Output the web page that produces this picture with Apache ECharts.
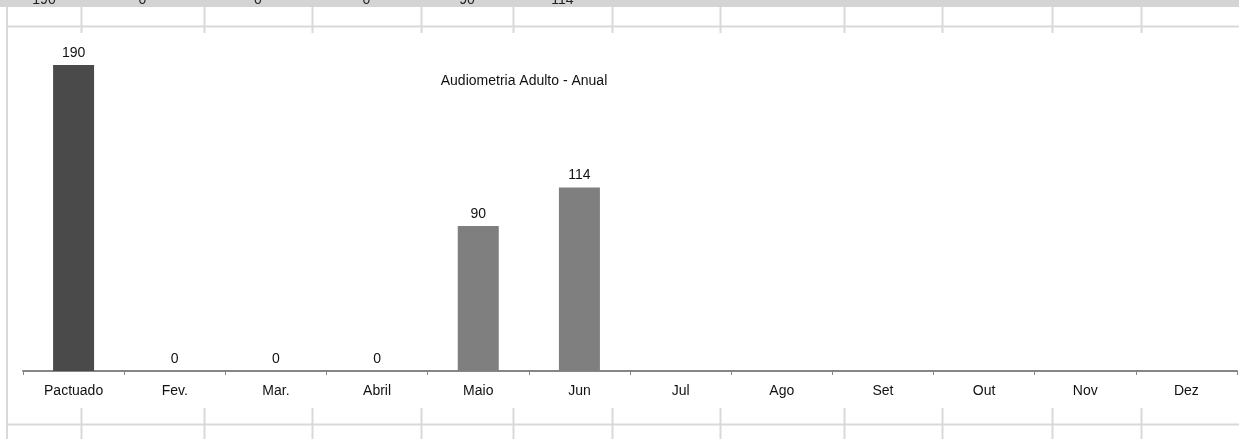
<!DOCTYPE html>
<html>
<head>
<meta charset="utf-8">
<style>
  html, body { margin: 0; padding: 0; background: #fff; }
  #chart { width: 1239px; height: 439px; }
</style>
</head>
<body>
<div id="chart"></div>
<script src="https://cdn.jsdelivr.net/npm/echarts@6/dist/echarts.min.js"></script>
<script>
// dados do grafico
var meses = ['Pactuado', 'Fev.', 'Mar.', 'Abril', 'Maio', 'Jun', 'Jul', 'Ago', 'Set', 'Out', 'Nov', 'Dez'];
var valores = [190, 0, 0, 0, 90, 114, null, null, null, null, null, null];
var titulo = 'Audiometria Adulto - Anual';

// linha da planilha cortada no topo
var celulasTopo = ['190', '0', '0', '0', '90', '114'];
var colunasPlanilha = [7, 81, 204, 312, 421, 513, 612, 720, 844, 942, 1052, 1141];

var fonte = '"Liberation Sans", Arial, sans-serif';
var corGrade = '#d9d9d9';

var graficos = [];
// faixa cinza do topo
graficos.push({ type: 'rect', shape: { x: 0, y: 0, width: 1239, height: 7 }, style: { fill: '#d4d4d4' }, silent: true });
// textos cortados
for (var i = 0; i < celulasTopo.length; i++) {
    var cx = (colunasPlanilha[i] + colunasPlanilha[i + 1]) / 2;
    graficos.push({
        type: 'text', x: cx, y: 7, silent: true,
        style: { text: celulasTopo[i], font: '14px ' + fonte, fill: '#222', align: 'center', verticalAlign: 'bottom' }
    });
}
// linhas horizontais
graficos.push({ type: 'line', shape: { x1: 7, y1: 26.5, x2: 1239, y2: 26.5 }, style: { stroke: corGrade, lineWidth: 2 }, silent: true });
graficos.push({ type: 'line', shape: { x1: 7, y1: 424.5, x2: 1239, y2: 424.5 }, style: { stroke: corGrade, lineWidth: 2 }, silent: true });
// linha esquerda inteira
graficos.push({ type: 'line', shape: { x1: 7, y1: 7, x2: 7, y2: 439 }, style: { stroke: corGrade, lineWidth: 2 }, silent: true });
// pedacos verticais
for (var j = 1; j < colunasPlanilha.length; j++) {
    var x = colunasPlanilha[j] + 0.5;
    graficos.push({ type: 'line', shape: { x1: x, y1: 7, x2: x, y2: 33 }, style: { stroke: corGrade, lineWidth: 2 }, silent: true });
    graficos.push({ type: 'line', shape: { x1: x, y1: 408, x2: x, y2: 439 }, style: { stroke: corGrade, lineWidth: 2 }, silent: true });
}

var chart = echarts.init(document.getElementById('chart'));
var option = {
    animation: false,
    backgroundColor: '#fff',
    title: {
        text: titulo,
        left: 519,
        top: 69,
        textAlign: 'center',
        textStyle: { fontFamily: fonte, fontSize: 14, fontWeight: 'normal', color: '#111' }
    },
    graphic: graficos,
    grid: { left: 23, right: 2, top: 65, bottom: 68, containLabel: false },
    xAxis: {
        type: 'category',
        data: meses,
        axisLine: { lineStyle: { color: '#868686', width: 2 } },
        axisTick: { show: true, length: 4, lineStyle: { color: '#868686', width: 1 } },
        axisLabel: { fontFamily: fonte, fontSize: 14, color: '#111', margin: 13 }
    },
    yAxis: {
        type: 'value',
        min: 0,
        max: 190,
        show: false,
        splitLine: { show: false }
    },
    series: [{
        type: 'bar',
        data: valores,
        barWidth: 41,
        itemStyle: {
            color: function (p) { return p.dataIndex === 0 ? '#4a4a4a' : '#7f7f7f'; }
        },
        label: {
            show: true,
            position: 'top',
            distance: 5,
            fontFamily: fonte,
            fontSize: 14,
            color: '#111'
        }
    }]
};
chart.setOption(option);
</script>
</body>
</html>
